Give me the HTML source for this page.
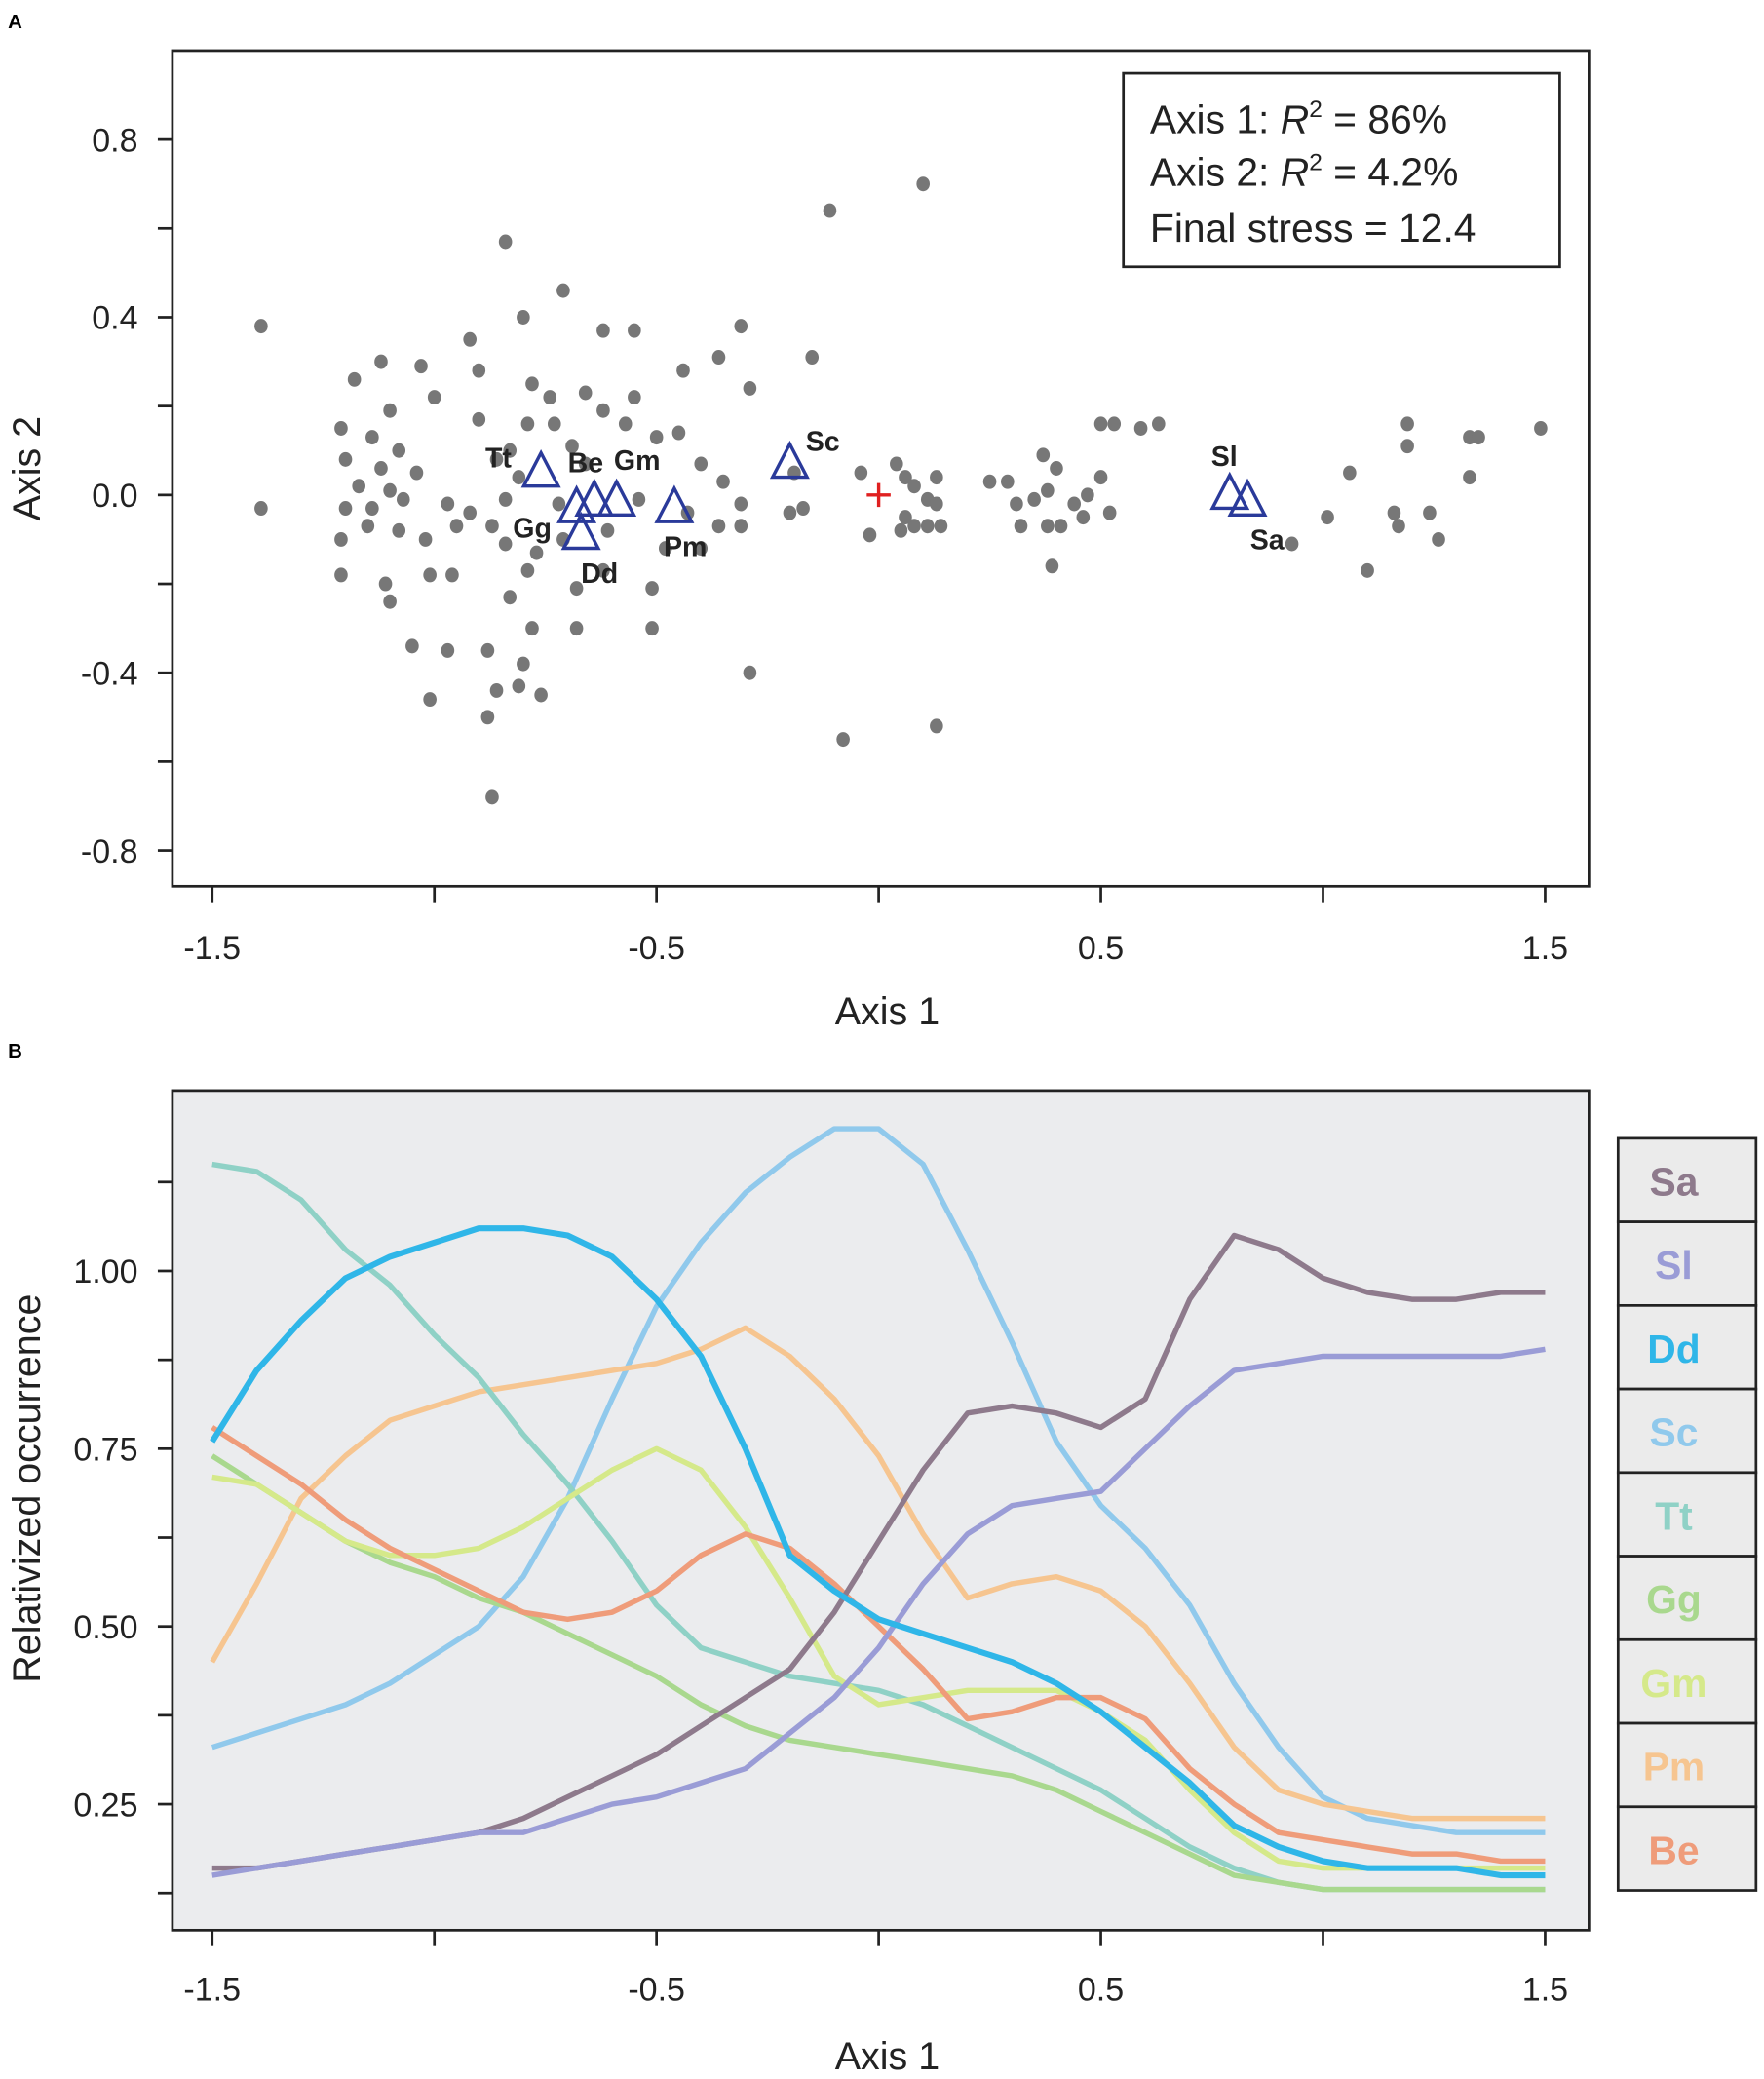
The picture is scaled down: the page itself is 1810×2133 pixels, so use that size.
<!DOCTYPE html>
<html><head><meta charset="utf-8"><style>
html,body{margin:0;padding:0;background:#fff;}
svg{display:block;font-family:"Liberation Sans",Arial,sans-serif;}
</style></head><body>
<svg id="fig" width="1810" height="2133" viewBox="0 0 1330 1567" xmlns="http://www.w3.org/2000/svg">
<g id="panelA"></g>
<g id="panelB"></g>
</svg>
<script>
const NS="http://www.w3.org/2000/svg";
function mk(parent,tag,attrs,text){const e=document.createElementNS(NS,tag);for(const k in attrs)e.setAttribute(k,attrs[k]);if(text!==undefined)e.textContent=text;parent.appendChild(e);return e;}

// ---- Panel A data ----
const siteX=[-1.39,-1.39,-0.84,-0.71,-0.92,-0.80,-1.12,-1.03,-1.18,-1.00,-1.10,-1.21,-1.14,-1.08,-1.20,-1.12,-1.04,-1.17,-1.10,-1.20,-1.14,-1.07,-0.97,-0.92,-1.15,-1.08,-1.21,-1.02,-0.95,-1.21,-1.11,-1.10,-1.01,-0.96,-1.05,-0.97,-1.01,-0.88,-0.88,-0.86,-0.87,-0.81,-0.76,-0.80,-0.78,-0.83,-0.79,-0.84,-0.77,-0.71,-0.68,-0.68,-0.62,-0.61,-0.51,-0.51,-0.48,-0.40,-0.36,-0.31,-0.35,-0.29,-0.08,0.13,-0.90,-0.86,-0.81,-0.78,-0.74,-0.73,-0.79,-0.69,-0.66,-0.62,-0.62,-0.55,-0.55,-0.57,-0.50,-0.45,-0.44,-0.36,-0.31,-0.29,-0.40,-0.15,-0.11,0.10,-0.04,-0.19,-0.20,-0.17,-0.84,-0.54,-0.43,-0.31,-0.66,-0.72,-0.87,-0.83,-0.90,0.04,0.06,0.08,0.13,0.11,-0.02,0.05,0.08,0.11,0.14,0.13,0.06,0.25,0.29,0.31,0.37,0.40,0.38,0.35,0.32,0.38,0.41,0.46,0.47,0.50,0.44,0.39,0.50,0.53,0.59,0.63,0.52,0.93,1.01,1.06,1.10,1.16,1.17,1.19,1.19,1.24,1.26,1.33,1.33,1.35,1.49];
const siteY=[0.38,-0.03,0.57,0.46,0.35,0.40,0.30,0.29,0.26,0.22,0.19,0.15,0.13,0.10,0.08,0.06,0.05,0.02,0.01,-0.03,-0.03,-0.01,-0.02,-0.04,-0.07,-0.08,-0.10,-0.10,-0.07,-0.18,-0.20,-0.24,-0.18,-0.18,-0.34,-0.35,-0.46,-0.35,-0.50,-0.44,-0.68,-0.43,-0.45,-0.38,-0.30,-0.23,-0.17,-0.11,-0.13,-0.10,-0.30,-0.21,-0.17,-0.08,-0.30,-0.21,-0.12,-0.12,-0.07,-0.02,0.03,-0.40,-0.55,-0.52,0.17,0.08,0.04,0.25,0.22,0.16,0.16,0.11,0.23,0.19,0.37,0.37,0.22,0.16,0.13,0.14,0.28,0.31,0.38,0.24,0.07,0.31,0.64,0.70,0.05,0.05,-0.04,-0.03,-0.01,-0.01,-0.04,-0.07,0.07,-0.02,-0.07,0.10,0.28,0.07,0.04,0.02,0.04,-0.01,-0.09,-0.08,-0.07,-0.07,-0.07,-0.02,-0.05,0.03,0.03,-0.02,0.09,0.06,0.01,-0.01,-0.07,-0.07,-0.07,-0.05,0.00,0.04,-0.02,-0.16,0.16,0.16,0.15,0.16,-0.04,-0.11,-0.05,0.05,-0.17,-0.04,-0.07,0.16,0.11,-0.04,-0.10,0.13,0.04,0.13,0.15];
const speciesNames=["Tt","Gg","Be","Gm","Dd","Pm","Sc","Sl","Sa"];
const speciesX=[-0.76,-0.68,-0.64,-0.59,-0.67,-0.46,-0.20,0.79,0.83];
const speciesY=[0.05,-0.03,-0.015,-0.015,-0.09,-0.03,0.07,0.00,-0.015];
const speciesLabelDx=[-42,-48,-20,-2,0,-8,12,-14,2];
const speciesLabelDy=[-4,22,-22,-24,36,36,-10,-22,36];
const axAXTicks=[-1.5,-1.0,-0.5,0,0.5,1.0,1.5];
const axAXLabels=["-1.5","-0.5","0.5","1.5"];
const axAYTicks=[0.8,0.6,0.4,0.2,0,-0.2,-0.4,-0.6,-0.8];
const axAYLabels=["0.8","0.4","0.0","-0.4","-0.8"];

// ---- Panel B data ----
const gridX=[-1.5,-1.4,-1.3,-1.2,-1.1,-1.0,-0.9,-0.8,-0.7,-0.6,-0.5,-0.4,-0.3,-0.2,-0.1,0,0.1,0.2,0.3,0.4,0.5,0.6,0.7,0.8,0.9,1.0,1.1,1.2,1.3,1.4,1.5];
const seriesNames=["Sa","Sl","Dd","Sc","Tt","Gg","Gm","Pm","Be"];
const valSa=[.16,.16,.17,.18,.19,.20,.21,.23,.26,.29,.32,.36,.40,.44,.52,.62,.72,.80,.81,.80,.78,.82,.96,1.05,1.03,.99,.97,.96,.96,.97,.97];
const valSl=[.15,.16,.17,.18,.19,.20,.21,.21,.23,.25,.26,.28,.30,.35,.40,.47,.56,.63,.67,.68,.69,.75,.81,.86,.87,.88,.88,.88,.88,.88,.89];
const valDd=[.76,.86,.93,.99,1.02,1.04,1.06,1.06,1.05,1.02,.96,.88,.75,.60,.55,.51,.49,.47,.45,.42,.38,.33,.28,.22,.19,.17,.16,.16,.16,.15,.15];
const valSc=[.33,.35,.37,.39,.42,.46,.50,.57,.68,.82,.95,1.04,1.11,1.16,1.20,1.20,1.15,1.03,.90,.76,.67,.61,.53,.42,.33,.26,.23,.22,.21,.21,.21];
const valTt=[1.15,1.14,1.10,1.03,.98,.91,.85,.77,.70,.62,.53,.47,.45,.43,.42,.41,.39,.36,.33,.30,.27,.23,.19,.16,.14,.13,.13,.13,.13,.13,.13];
const valGg=[.74,.70,.66,.62,.59,.57,.54,.52,.49,.46,.43,.39,.36,.34,.33,.32,.31,.30,.29,.27,.24,.21,.18,.15,.14,.13,.13,.13,.13,.13,.13];
const valGm=[.71,.70,.66,.62,.60,.60,.61,.64,.68,.72,.75,.72,.64,.54,.43,.39,.40,.41,.41,.41,.38,.34,.27,.21,.17,.16,.16,.16,.16,.16,.16];
const valPm=[.45,.56,.68,.74,.79,.81,.83,.84,.85,.86,.87,.89,.92,.88,.82,.74,.63,.54,.56,.57,.55,.50,.42,.33,.27,.25,.24,.23,.23,.23,.23];
const valBe=[.78,.74,.70,.65,.61,.58,.55,.52,.51,.52,.55,.60,.63,.61,.56,.50,.44,.37,.38,.40,.40,.37,.30,.25,.21,.20,.19,.18,.18,.17,.17];
const axBYTicks=[1.125,1.0,0.875,0.75,0.625,0.5,0.375,0.25,0.125];
const axBYLabels=["1.00","0.75","0.50","0.25"];

const colors={Sa:"#8e7a8c",Sl:"#9a9cd6",Dd:"#2fb6e8",Sc:"#90c9ec",Tt:"#8fd1c6",Gg:"#a9d88e",Gm:"#d5e98a",Pm:"#f6c590",Be:"#ef9c7a"};

// axis functions
const xS=v=>662.5+v*335;
const yA=v=>373-v*335;
const yB=v=>958-(v-1)*536;

// ---- draw Panel A ----
const A=document.getElementById('panelA');
let t=mk(A,'text',{x:6,y:21,'font-size':15,'font-weight':'bold'},'A');

let r=mk(A,'rect',{x:130,y:38,width:1068,height:630,fill:'#fff',stroke:'#222','stroke-width':2});

axAYTicks.forEach(v=>{const l=mk(A,'line',{x1:119,x2:130,y1:yA(v),y2:yA(v),stroke:'#222','stroke-width':2});});
axAYLabels.forEach(s=>{const e=mk(A,'text',{x:104,y:yA(parseFloat(s))+9,'font-size':25,'text-anchor':'end',fill:'#222'},s);});
axAXTicks.forEach(v=>{const l=mk(A,'line',{x1:xS(v),x2:xS(v),y1:668,y2:680,stroke:'#222','stroke-width':2});});
axAXLabels.forEach(s=>{const e=mk(A,'text',{x:xS(parseFloat(s)),y:723,'font-size':25,'text-anchor':'middle',fill:'#222'},s);});
t=mk(A,'text',{x:669,y:772,'font-size':29,'text-anchor':'middle',fill:'#222'},'Axis 1');

t=mk(A,'text',{x:0,y:0,'font-size':29,'text-anchor':'middle',fill:'#222',transform:'translate(30,353) rotate(-90)'},'Axis 2');

for(let i=0;i<siteX.length;i++){const c=mk(A,'ellipse',{cx:xS(siteX[i]),cy:yA(siteY[i]),rx:5,ry:5.5,fill:'#777'});}
let p=mk(A,'path',{d:`M${xS(0)-9},${yA(0)}h18M${xS(0)},${yA(0)-9}v18`,stroke:'#e02020','stroke-width':2.5});

for(let i=0;i<speciesNames.length;i++){
 const cx=xS(speciesX[i]),cy=yA(speciesY[i]);
 const tri=mk(A,'polygon',{points:`${cx},${cy-15} ${cx-13},${cy+10} ${cx+13},${cy+10}`,fill:'none',stroke:'#2a3a9a','stroke-width':2.5});
 
 const lb=mk(A,'text',{x:cx+speciesLabelDx[i],y:cy+speciesLabelDy[i],'font-size':21,'font-weight':'bold',fill:'#222'},speciesNames[i]);
 
}
const lg=mk(A,'g',{});
mk(lg,'rect',{x:847,y:55,width:329,height:146,fill:'#fff',stroke:'#222','stroke-width':2});
t=mk(lg,'text',{x:867,y:100,'font-size':30,fill:'#222'});t.innerHTML='Axis 1: <tspan font-style="italic">R</tspan><tspan dy="-12" font-size="18">2</tspan><tspan dy="12"> = 86%</tspan>';

t=mk(lg,'text',{x:867,y:140,'font-size':30,fill:'#222'});t.innerHTML='Axis 2: <tspan font-style="italic">R</tspan><tspan dy="-12" font-size="18">2</tspan><tspan dy="12"> = 4.2%</tspan>';

t=mk(lg,'text',{x:867,y:182,'font-size':30,fill:'#222'},'Final stress = 12.4');


// ---- draw Panel B ----
const B=document.getElementById('panelB');
t=mk(B,'text',{x:6,y:797,'font-size':15,'font-weight':'bold'},'B');

r=mk(B,'rect',{x:130,y:822,width:1068,height:633,fill:'#ebecee',stroke:'#222','stroke-width':2});

axBYTicks.forEach(v=>{const l=mk(B,'line',{x1:119,x2:130,y1:yB(v),y2:yB(v),stroke:'#222','stroke-width':2});});
axBYLabels.forEach(s=>{const e=mk(B,'text',{x:104,y:yB(parseFloat(s))+9,'font-size':25,'text-anchor':'end',fill:'#222'},s);});
axAXTicks.forEach(v=>{const l=mk(B,'line',{x1:xS(v),x2:xS(v),y1:1455,y2:1467,stroke:'#222','stroke-width':2});});
axAXLabels.forEach(s=>{const e=mk(B,'text',{x:xS(parseFloat(s)),y:1508,'font-size':25,'text-anchor':'middle',fill:'#222'},s);});
t=mk(B,'text',{x:669,y:1560,'font-size':29,'text-anchor':'middle',fill:'#222'},'Axis 1');

t=mk(B,'text',{x:0,y:0,'font-size':29,'text-anchor':'middle',fill:'#222',transform:'translate(30,1122) rotate(-90)'},'Relativized occurrence');

const vals={Sa:valSa,Sl:valSl,Dd:valDd,Sc:valSc,Tt:valTt,Gg:valGg,Gm:valGm,Pm:valPm,Be:valBe};
const drawOrder=["Sc","Pm","Tt","Gg","Gm","Be","Sa","Sl","Dd"];
drawOrder.forEach(n=>{
 const pts=gridX.map((x,i)=>xS(x).toFixed(1)+','+yB(vals[n][i]).toFixed(1)).join(' ');
 const pl=mk(B,'polyline',{points:pts,fill:'none',stroke:colors[n],'stroke-width':n==='Dd'?4.5:4,'stroke-linejoin':'round'});
 
});
seriesNames.forEach((n,i)=>{
 const g=mk(B,'g',{});
 const y0=858+i*63;
 mk(g,'rect',{x:1220,y:y0,width:104,height:63,fill:'#ebebeb',stroke:'#222','stroke-width':2});
 mk(g,'text',{x:1262,y:y0+43,'font-size':30,'font-weight':'bold','text-anchor':'middle',fill:colors[n]},n);
});
</script>
</body></html>
